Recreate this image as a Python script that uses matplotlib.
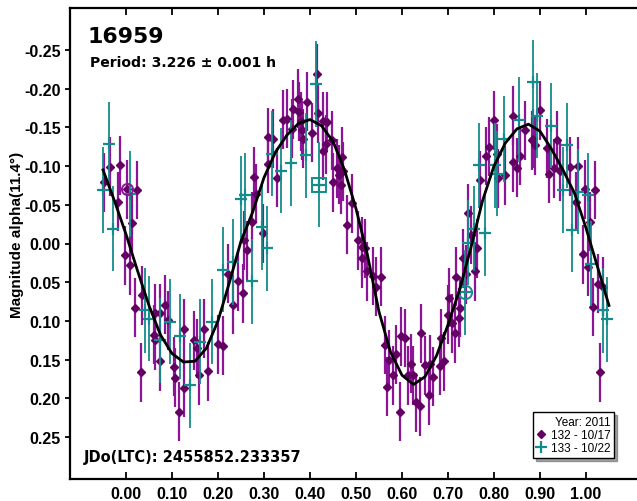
import matplotlib
matplotlib.use("Agg")
import matplotlib.pyplot as plt
from matplotlib.lines import Line2D

# fitted Fourier curve
curve_phase = [-0.05, -0.025, 0.0, 0.025, 0.05, 0.075, 0.10, 0.125, 0.15, 0.175,
               0.20, 0.225, 0.25, 0.275, 0.30, 0.325, 0.35, 0.375, 0.40, 0.425,
               0.45, 0.475, 0.50, 0.525, 0.55, 0.575, 0.60, 0.625, 0.65, 0.675,
               0.70, 0.725, 0.75, 0.775, 0.80, 0.825, 0.85, 0.875, 0.90, 0.925,
               0.95, 0.975, 1.00, 1.025, 1.05]
curve_mag = [-0.095, -0.055, -0.012, 0.035, 0.080, 0.118, 0.142, 0.153, 0.152, 0.135,
             0.100, 0.050, -0.003, -0.040, -0.085, -0.118, -0.140, -0.155, -0.160, -0.152,
             -0.132, -0.095, -0.045, 0.015, 0.088, 0.140, 0.170, 0.182, 0.172, 0.145,
             0.105, 0.060, 0.005, -0.055, -0.100, -0.130, -0.148, -0.154, -0.145, -0.122,
             -0.095, -0.065, -0.020, 0.030, 0.080]

# session 132 - 10/17
s132_phase = [-0.048, -0.035, -0.013, -0.017, 0.0015, 0.023, 0.012, -0.002, 0.009, 0.020,
              0.034, 0.063, 0.074, 0.085, 0.092, 0.061, 0.063, 0.074, 0.032, 0.104,
              0.107, 0.126, 0.126, 0.115, 0.148, 0.154, 0.159, 0.170, 0.178, 0.201,
              0.211, 0.222, 0.233, 0.243, 0.254, 0.264, 0.257, 0.275, 0.283, 0.278,
              0.297, 0.309, 0.309, 0.319, 0.329, 0.341, 0.351, 0.360, 0.364, 0.375,
              0.377, 0.380, 0.382, 0.384, 0.393, 0.404, 0.416, 0.418, 0.428, 0.438,
              0.435, 0.429, 0.447, 0.458, 0.469, 0.462, 0.472, 0.449, 0.467, 0.491,
              0.480, 0.505, 0.512, 0.520, 0.514, 0.525, 0.536, 0.554, 0.543, 0.563,
              0.567, 0.572, 0.580, 0.587, 0.597, 0.607, 0.596, 0.614, 0.619, 0.625,
              0.630, 0.639, 0.641, 0.650, 0.659, 0.661, 0.668, 0.683, 0.691, 0.684,
              0.701, 0.703, 0.708, 0.715, 0.717, 0.726, 0.725, 0.733, 0.739, 0.744,
              0.749, 0.759, 0.764, 0.770, 0.783, 0.790, 0.807, 0.809, 0.824, 0.841,
              0.851, 0.857, 0.867, 0.882, 0.799, 0.841, 0.885, 0.889, 0.899, 0.915,
              0.920, 0.930, 0.938, 0.943, 0.965, 0.983, 0.998, 1.020, 1.009, 0.978,
              0.994, 1.005, 1.027, 1.038, 1.016, 1.030]
s132_mag = [-0.079, -0.099, -0.101, -0.054, -0.070, -0.069, -0.027, 0.015, 0.028, 0.083,
            0.067, 0.090, 0.090, 0.079, 0.099, 0.118, 0.125, 0.152, 0.166, 0.159,
            0.173, 0.110, 0.186, 0.217, 0.125, 0.135, 0.170, 0.110, 0.165, 0.130,
            0.132, 0.039, 0.079, 0.049, 0.064, 0.009, -0.004, -0.028, -0.064, -0.086,
            -0.013, -0.137, -0.103, -0.135, -0.085, -0.160, -0.161, -0.148, -0.173, -0.187,
            -0.170, -0.158, -0.146, -0.135, -0.183, -0.143, -0.219, -0.168, -0.158, -0.157,
            -0.128, -0.120, -0.133, -0.097, -0.112, -0.089, -0.093, -0.079, -0.076, -0.052,
            -0.024, -0.004, 0.004, 0.006, 0.019, 0.036, 0.042, 0.043, 0.056, 0.131,
            0.185, 0.150, 0.170, 0.143, 0.120, 0.122, 0.217, 0.170, 0.155, 0.170,
            0.205, 0.210, 0.116, 0.157, 0.196, 0.156, 0.172, 0.158, 0.152, 0.122,
            0.092, 0.070, 0.103, 0.116, 0.043, 0.083, 0.096, 0.019, 0.040, -0.039,
            -0.011, 0.036, 0.006, -0.082, -0.113, -0.125, -0.116, -0.084, -0.088, -0.105,
            -0.098, -0.113, -0.146, -0.133, -0.159, -0.165, -0.135, -0.127, -0.172, -0.123,
            -0.090, -0.097, -0.133, -0.093, -0.099, -0.100, -0.070, -0.069, -0.028, -0.054,
            0.014, 0.030, 0.052, 0.056, 0.082, 0.166]
s132_err = 0.038

# session 133 - 10/22
s133_phase = [-0.036, -0.049, -0.028, 0.009, 0.041, 0.049, 0.074, 0.096, 0.117, 0.139,
              0.161, 0.186, 0.210, 0.233, 0.251, 0.259, 0.273, 0.295, 0.306, 0.317,
              0.338, 0.358, 0.391, 0.413, 0.420, 0.737, 0.744, 0.757, 0.780, 0.768,
              0.802, 0.822, 0.806, 0.855, 0.885, 0.893, 0.925, 0.959, 0.951, 0.983,
              1.005, 0.969, 1.011, 1.036, 1.046]
s133_mag = [-0.128, -0.069, -0.019, -0.064, 0.086, 0.097, 0.125, 0.101, 0.120, 0.183,
            0.127, 0.101, 0.034, 0.024, -0.058, -0.062, 0.049, -0.021, 0.006, -0.116,
            -0.094, -0.104, -0.114, -0.206, -0.076, 0.063, -0.001, -0.019, -0.013, -0.101,
            -0.101, -0.135, -0.090, -0.160, -0.208, -0.165, -0.152, -0.127, -0.069, -0.067,
            -0.062, -0.018, 0.026, 0.086, 0.098]
s133_err = 0.055

PURPLE = "#8c1496"
PURPLE_DARK = "#640064"
TEAL = "#148c8c"
FONT = "Liberation Sans"
WIDE = "DejaVu Sans"

fig = plt.figure(figsize=(6.37, 5.02), dpi=100)
ax = fig.add_axes([70 / 637, 22 / 502, 571 / 637, 471 / 502])

ax.errorbar(s132_phase, s132_mag, yerr=s132_err, fmt="D", color=PURPLE_DARK,
            ecolor=PURPLE, elinewidth=1.6, markersize=4.3, capsize=0, zorder=2)
ax.errorbar(s133_phase, s133_mag, yerr=s133_err, fmt="+", color=TEAL,
            ecolor=TEAL, elinewidth=1.3, markersize=8, mew=1.6, capsize=0, zorder=3)

# first-point markers
ax.plot(s132_phase[4], s132_mag[4], "o", mfc="none", mec=PURPLE, ms=8, mew=1.4, zorder=4)
ax.plot(s133_phase[24], s133_mag[24], "s", mfc="none", mec=TEAL, ms=10, mew=1.4, zorder=4)
ax.plot(s133_phase[25], s133_mag[25], "o", mfc="none", mec=TEAL, ms=9.5, mew=1.4, zorder=4)

ax.plot(curve_phase, curve_mag, color="black", lw=2, zorder=5)

ax.set_xlim(-0.1217, 1.1196)
ax.set_ylim(0.304, -0.304)
ax.set_xticks([i / 10 for i in range(11)])
ax.set_yticks([-0.25, -0.20, -0.15, -0.10, -0.05, 0.0, 0.05, 0.10, 0.15, 0.20, 0.25])
ax.xaxis.set_major_formatter(plt.FormatStrFormatter("%.2f"))
ax.yaxis.set_major_formatter(plt.FormatStrFormatter("%.2f"))

for s in ax.spines.values():
    s.set_linewidth(1.6)
ax.tick_params(axis="x", direction="in", top=True, length=5, width=1.3, pad=5)
ax.tick_params(axis="y", direction="out", right=False, length=3.5, width=1.3, pad=3)
sec = ax.secondary_yaxis("right")
sec.set_yticks(ax.get_yticks())
sec.tick_params(direction="in", length=3, width=1.3, labelright=False)

for lab in ax.get_xticklabels() + ax.get_yticklabels():
    lab.set_fontfamily(FONT)
    lab.set_fontweight("bold")
    lab.set_fontsize(11.5)

fig.text(17 / 637, 1 - 235 / 502, "Magnitude alpha(11.4°)", rotation=90,
         ha="center", va="center", fontsize=11, fontweight="bold", family=FONT)
fig.text(88 / 637, 1 - 43 / 502, "16959", fontsize=15.8, fontweight="bold",
         family=WIDE, va="baseline")
fig.text(90 / 637, 1 - 66.7 / 502, "Period: 3.226 ± 0.001 h", fontsize=10.1,
         fontweight="bold", family=WIDE, va="baseline")
fig.text(84 / 637, 1 - 461.7 / 502, "JDo(LTC): 2455852.233357", fontsize=10.5,
         fontweight="bold", family=WIDE, va="baseline")

handles = [
    Line2D([], [], ls="none", marker="D", color=PURPLE_DARK, ms=4),
    Line2D([], [], ls="none", marker="+", color=TEAL, ms=8, mew=1.6),
]
leg = ax.legend(handles, ["132 - 10/17", "133 - 10/22"], title="Year: 2011",
                loc="lower right", bbox_to_anchor=((614 - 70) / 571, (480 - 459) / 471),
                borderaxespad=0, fancybox=False, shadow=True, framealpha=1,
                edgecolor="black", prop={"family": FONT, "size": 8.5},
                title_fontproperties={"family": FONT, "size": 8.5},
                alignment="right", handlelength=0.8, handletextpad=0.4,
                borderpad=0.3, labelspacing=0.12)
leg.get_frame().set_linewidth(1.0)

fig.savefig("out.png", dpi=100)
